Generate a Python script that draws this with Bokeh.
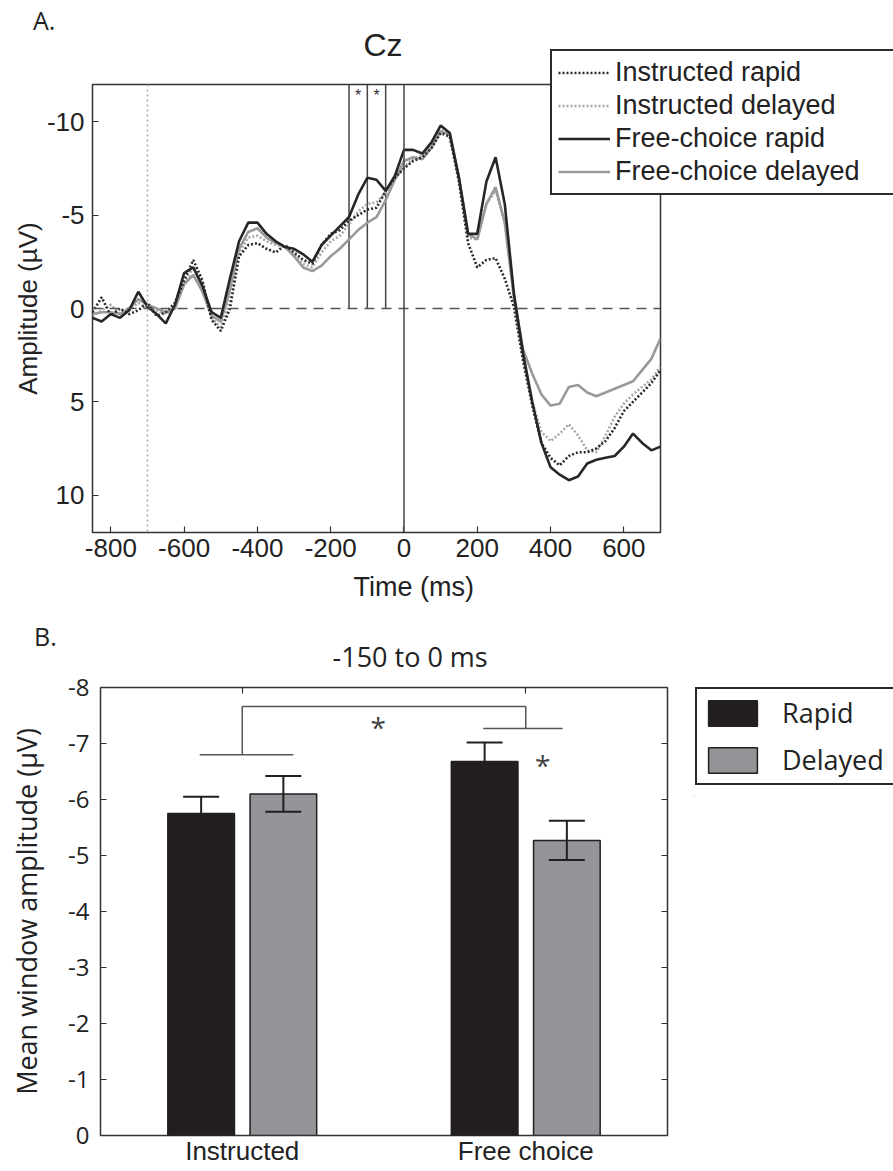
from bokeh.plotting import figure
from bokeh.models import (Range1d, FixedTicker, Legend, LegendItem, Title,
                          LinearAxis, Span, Div)
from bokeh.core.properties import value
from bokeh.embed import file_html
from bokeh.resources import INLINE

# ---------------- Panel A data (ERP at Cz) ----------------
time_ms = list(range(-850, 701, 25))
instructed_rapid = [0.2, -0.6, 0.4, 0.0, 0.3, 0.1, -0.3, 0.4, 0.2, -0.3,
                    -1.5, -2.6, -1.5, 0.6, 1.2, 0.0, -2.8, -3.4, -3.5, -3.2,
                    -3.0, -3.4, -3.0, -2.6, -2.4, -3.4, -4.0, -4.2, -4.7, -5.0,
                    -5.3, -5.4, -6.3, -7.0, -7.5, -7.9, -8.1, -8.6, -9.4, -9.2,
                    -6.8, -3.5, -2.2, -2.6, -2.7, -1.6, -0.1, 2.8, 5.2, 7.2,
                    8.0, 8.4, 7.9, 7.7, 7.7, 7.5, 7.1, 6.4, 5.5, 5.0,
                    4.5, 4.0, 3.3]
instructed_delayed = [0.4, 0.1, -0.2, 0.3, 0.1, -0.3, 0.0, 0.1, 0.3, 0.0,
                      -1.3, -2.2, -1.4, 0.5, 1.0, -0.5, -3.0, -3.8, -3.9, -3.6,
                      -3.4, -3.3, -2.9, -2.4, -2.2, -3.0, -3.6, -3.9, -4.5, -5.2,
                      -5.6, -5.7, -6.2, -6.9, -7.6, -8.0, -8.2, -8.8, -9.6, -9.3,
                      -7.0, -3.8, -3.7, -5.6, -6.3, -4.6, -0.5, 2.6, 5.0, 6.6,
                      7.1, 6.7, 6.2, 6.8, 7.6, 7.7, 6.8, 5.8, 5.1, 4.6,
                      4.2, 3.8, 3.1]
free_rapid = [0.5, 0.7, 0.3, 0.5, 0.1, -0.9, -0.1, 0.3, 0.8, -0.2,
              -1.9, -2.2, -1.2, 0.2, 0.5, -1.6, -3.6, -4.6, -4.6, -4.0,
              -3.6, -3.3, -3.2, -2.9, -2.5, -3.4, -3.9, -4.4, -4.9, -6.1,
              -7.0, -6.9, -6.3, -7.1, -8.5, -8.5, -8.3, -8.9, -9.8, -9.4,
              -7.0, -4.0, -4.0, -6.8, -8.1, -5.6, -0.8, 2.4, 5.0, 7.2,
              8.5, 8.9, 9.2, 9.0, 8.3, 8.1, 8.0, 7.9, 7.4, 6.7,
              7.2, 7.6, 7.4]
free_delayed = [0.3, 0.2, 0.2, 0.3, 0.0, -0.5, -0.2, 0.0, 0.2, 0.0,
                -1.3, -1.8, -0.9, 0.4, 0.7, -1.0, -3.2, -4.1, -4.3, -3.8,
                -3.5, -3.3, -2.8, -2.2, -2.0, -2.3, -2.8, -3.2, -3.7, -4.2,
                -4.6, -4.9, -5.8, -6.9, -7.9, -8.1, -8.0, -8.6, -9.5, -9.3,
                -7.0, -4.0, -3.7, -5.6, -6.5, -4.6, -0.6, 2.2, 3.5, 4.6,
                5.2, 5.1, 4.2, 4.1, 4.5, 4.7, 4.5, 4.3, 4.1, 3.9,
                3.3, 2.7, 1.6]
series_names = ["Instructed rapid", "Instructed delayed",
                "Free-choice rapid", "Free-choice delayed"]
a_x_ticks = [-800, -600, -400, -200, 0, 200, 400, 600]
a_x_labels = ["-800", "-600", "-400", "-200", "0", "200", "400", "600"]
a_y_ticks = [-10, -5, 0, 5, 10]
a_y_labels = ["-10", "-5", "0", "5", "10"]
window_edges_ms = [-150, -100, -50]
sig_windows_ms = [-125, -75]
cue_ms = -700

# ---------------- Panel B data (mean window amplitude) ----------------
conditions = ["Instructed", "Free choice"]
group_names = ["Rapid", "Delayed"]
rapid_means = [-5.75, -6.68]
rapid_sem = [0.30, 0.34]
delayed_means = [-6.10, -5.27]
delayed_sem = [0.32, 0.35]
b_y_ticks = [-8, -7, -6, -5, -4, -3, -2, -1, 0]
b_y_labels = ["-8", "-7", "-6", "-5", "-4", "-3", "-2", "-1", "0"]
bracket_levels = [-6.8, -7.27, -7.66]   # instructed group, free group, top

FA = "Liberation Sans"
FB = "Open Sans"
INK = "#222222"

# line styles for the four ERP series (IR, ID, FR, FD)
erp_styles = [dict(line_color="#2a2a2a", line_width=2.6, line_dash="2 2"),
              dict(line_color="#a8a8a8", line_width=2.6, line_dash="2 2"),
              dict(line_color="#262626", line_width=2.6),
              dict(line_color="#9a9a9a", line_width=2.6)]
bar_fills = ["#231f20", "#939598"]
erp_values = [instructed_rapid, instructed_delayed, free_rapid, free_delayed]


def at(left, top, z=1):
    return {"position": "absolute", "left": f"{left}px", "top": f"{top}px",
            "z-index": str(z)}


def style_axis(ax, ticks, labels, font, size, standoff, tick_in=6):
    ax.ticker = FixedTicker(ticks=ticks, minor_ticks=[])
    if labels is None:
        ax.major_label_text_color = None
    else:
        ax.major_label_overrides = {t: l for t, l in zip(ticks, labels)}
        ax.major_label_text_color = INK
    ax.major_label_text_font_size = size
    ax.major_tick_in = tick_in
    ax.major_tick_out = 0
    ax.minor_tick_line_color = None
    ax.axis_line_color = None
    ax.major_tick_line_color = "#333333"
    ax.major_tick_line_width = 1.2
    ax.major_label_text_font = font
    ax.major_label_standoff = standoff


def add_title(p, text, place, font, size, align, offset, standoff):
    p.add_layout(Title(text=text, align=align, offset=offset, standoff=standoff,
                       text_font=font, text_font_size=size,
                       text_font_style="normal", text_color=INK), place)


def legend_fig(w, h, left, top):
    # a transparent overlay canvas; its data ranges lie far from the data,
    # so only the legend itself is visible
    f = figure(width=w, height=h, x_range=Range1d(1e6, 1e6 + 1),
               y_range=Range1d(1e6, 1e6 + 1), x_axis_type=None,
               y_axis_type=None, output_backend="svg", toolbar_location=None,
               min_border=0, styles=at(left, top, 10))
    f.outline_line_color = None
    f.grid.visible = False
    f.background_fill_alpha = 0
    f.border_fill_alpha = 0
    return f


# ================= Panel A =================
A_TOP, A_H = 0, 621
pA = figure(width=893, height=A_H, x_range=Range1d(-850, 700),
            y_range=Range1d(12, -12), output_backend="svg",
            toolbar_location=None, min_border_left=92, min_border_right=233,
            min_border_top=84, min_border_bottom=A_H - 532, styles=at(0, A_TOP))
pA.grid.visible = False
pA.outline_line_color = "#333333"
pA.outline_line_width = 1.5
style_axis(pA.xaxis[0], a_x_ticks, a_x_labels, FA, "26px", 6)
style_axis(pA.yaxis[0], a_y_ticks, a_y_labels, FA, "26px", 8)

pA.add_layout(Span(location=0, dimension="width", line_color="#555555",
                   line_width=1.5, line_dash="10 7"))
pA.add_layout(Span(location=cue_ms, dimension="height", line_color="#aaaaaa",
                   line_width=1.5, line_dash="2 3"))
pA.add_layout(Span(location=0, dimension="height", line_color="#444444",
                   line_width=1.5))
pA.segment(x0=window_edges_ms, y0=[0] * len(window_edges_ms),
           x1=window_edges_ms, y1=[pA.y_range.end] * len(window_edges_ms),
           line_color="#444444", line_width=1.5)

for idx in (1, 3, 0, 2):   # grey traces first, black on top
    pA.line(time_ms, erp_values[idx], **erp_styles[idx])

pA.text(x=sig_windows_ms, y=[-11.4] * len(sig_windows_ms),
        text=["*"] * len(sig_windows_ms), text_font=value(FA),
        text_font_size="16px", text_align="center", text_baseline="middle",
        text_color="#333333")

add_title(pA, "Amplitude (µV)", "left", FA, "26px", "center", 0, 2)
add_title(pA, "Time (ms)", "below", FA, "27px", "left", 261, 20)
add_title(pA, "Cz", "above", FA, "32px", "left", 271, 44)

# legend of panel A (overlapping the frame corner, as in the figure)
lfA = legend_fig(344, 156, 549, 48)
legend_a = [lfA.line(time_ms, vals, **st)
            for vals, st in zip(erp_values, erp_styles)]
lfA.add_layout(Legend(items=[LegendItem(label=n, renderers=[r]) for n, r in
                             zip(series_names, legend_a)],
                      location="top_left", orientation="vertical",
                      label_text_font=FA, label_text_font_size="27px",
                      label_text_color=INK, glyph_width=52, glyph_height=31,
                      label_height=31, label_width=290, spacing=2, padding=6,
                      margin=1, label_standoff=5, border_line_color="#2a2a2a",
                      border_line_alpha=1.0, border_line_width=2.8,
                      background_fill_color="white",
                      background_fill_alpha=1.0))

# ================= Panel B =================
B_TOP = A_TOP + A_H
pB = figure(width=893, height=1171 - B_TOP, x_range=Range1d(0.5, 2.5),
            y_range=Range1d(0, -8), output_backend="svg",
            toolbar_location=None, min_border_left=100, min_border_right=226,
            min_border_top=687 - B_TOP, min_border_bottom=36,
            styles=at(0, B_TOP))
pB.grid.visible = False
pB.outline_line_color = "#333333"
pB.outline_line_width = 1.5

x_idx = [i + 1 for i in range(len(conditions))]
style_axis(pB.xaxis[0], x_idx, conditions, FA, "26px", 0, tick_in=0)
style_axis(pB.yaxis[0], b_y_ticks, b_y_labels, FB, "24px", 11)
yax = pB.yaxis[0]
yax.axis_label = "Mean window amplitude (µV)"
yax.axis_label_text_font = FB
yax.axis_label_text_font_size = "27px"
yax.axis_label_text_font_style = "normal"
yax.axis_label_text_color = INK
yax.axis_label_standoff = 20
ax_r = LinearAxis()
style_axis(ax_r, b_y_ticks, None, FB, "10px", 0)
pB.add_layout(ax_r, "right")
ax_t = LinearAxis()
style_axis(ax_t, x_idx, None, FB, "10px", 0)
pB.add_layout(ax_t, "above")

off = 0.145
bw = 0.235
cap = 0.0635
rapid_x = [x - off for x in x_idx]
delayed_x = [x + off for x in x_idx]

pB.vbar(x=rapid_x, top=rapid_means, bottom=0, width=bw,
        fill_color=bar_fills[0], line_color="#231f20", line_width=1.5)
pB.vbar(x=delayed_x, top=delayed_means, bottom=0, width=bw,
        fill_color=bar_fills[1], line_color="#231f20", line_width=1.5)

for xs, ms, ss in ((rapid_x, rapid_means, rapid_sem),
                   (delayed_x, delayed_means, delayed_sem)):
    hi = [m - s for m, s in zip(ms, ss)]
    lo = [m + s for m, s in zip(ms, ss)]
    pB.segment(x0=xs, y0=hi, x1=xs, y1=lo, line_color="#231f20", line_width=2)
    pB.segment(x0=[x - cap for x in xs], y0=hi, x1=[x + cap for x in xs],
               y1=hi, line_color="#231f20", line_width=2)
    pB.segment(x0=[x - cap for x in xs], y0=lo, x1=[x + cap for x in xs],
               y1=lo, line_color="#231f20", line_width=2)

# significance brackets
half = 0.15
pB.segment(x0=[x_idx[0] - half, x_idx[1] - half],
           y0=[bracket_levels[0], bracket_levels[1]],
           x1=[x_idx[0] + half + 0.03, x_idx[1] + half - 0.02],
           y1=[bracket_levels[0], bracket_levels[1]],
           line_color="#555555", line_width=1.5)
pB.multi_line(xs=[[x_idx[0], x_idx[0], x_idx[1], x_idx[1]]],
              ys=[[bracket_levels[0], bracket_levels[2], bracket_levels[2],
                   bracket_levels[1]]],
              line_color="#555555", line_width=1.5)
pB.text(x=[(x_idx[0] + x_idx[1]) / 2 - 0.02, x_idx[1] + 0.06],
        y=[-7.3, -6.62], text=["*", "*"], text_font=value(FB),
        text_font_size="28px", text_align="center", text_baseline="middle",
        text_color="#444444")

add_title(pB, "-150 to 0 ms", "above", FB, "27px", "left", 232, 26)

# legend of panel B (to the right of the frame)
lfB = legend_fig(199, 110, 694, 686)
legend_b = [lfB.vbar(x=xs, top=ms, bottom=0, width=bw, fill_color=c,
                     line_color="#231f20", line_width=1.5)
            for xs, ms, c in ((rapid_x, rapid_means, bar_fills[0]),
                              (delayed_x, delayed_means, bar_fills[1]))]
lfB.add_layout(Legend(items=[LegendItem(label=n, renderers=[r]) for n, r in
                             zip(group_names, legend_b)],
                      location="top_left", orientation="vertical",
                      label_text_font=FB, label_text_font_size="27px",
                      label_text_color=INK, glyph_width=61, glyph_height=32,
                      label_height=32, label_width=150, spacing=10, padding=5,
                      margin=1, label_standoff=19, border_line_color="#2a2a2a",
                      border_line_alpha=1.0, border_line_width=2.8,
                      background_fill_color="white",
                      background_fill_alpha=1.0))

# panel letters
letter_css = {"font-family": FB, "font-size": "25px", "line-height": "1",
              "color": INK}
dA = Div(text="A.", width=40, height=28, styles={**at(28, 3, 5), **letter_css})
dB = Div(text="B.", width=40, height=28,
         styles={**at(29, 619, 5), **letter_css})

open("out.html", "w").write(file_html((pA, pB, lfA, lfB, dA, dB), INLINE))
